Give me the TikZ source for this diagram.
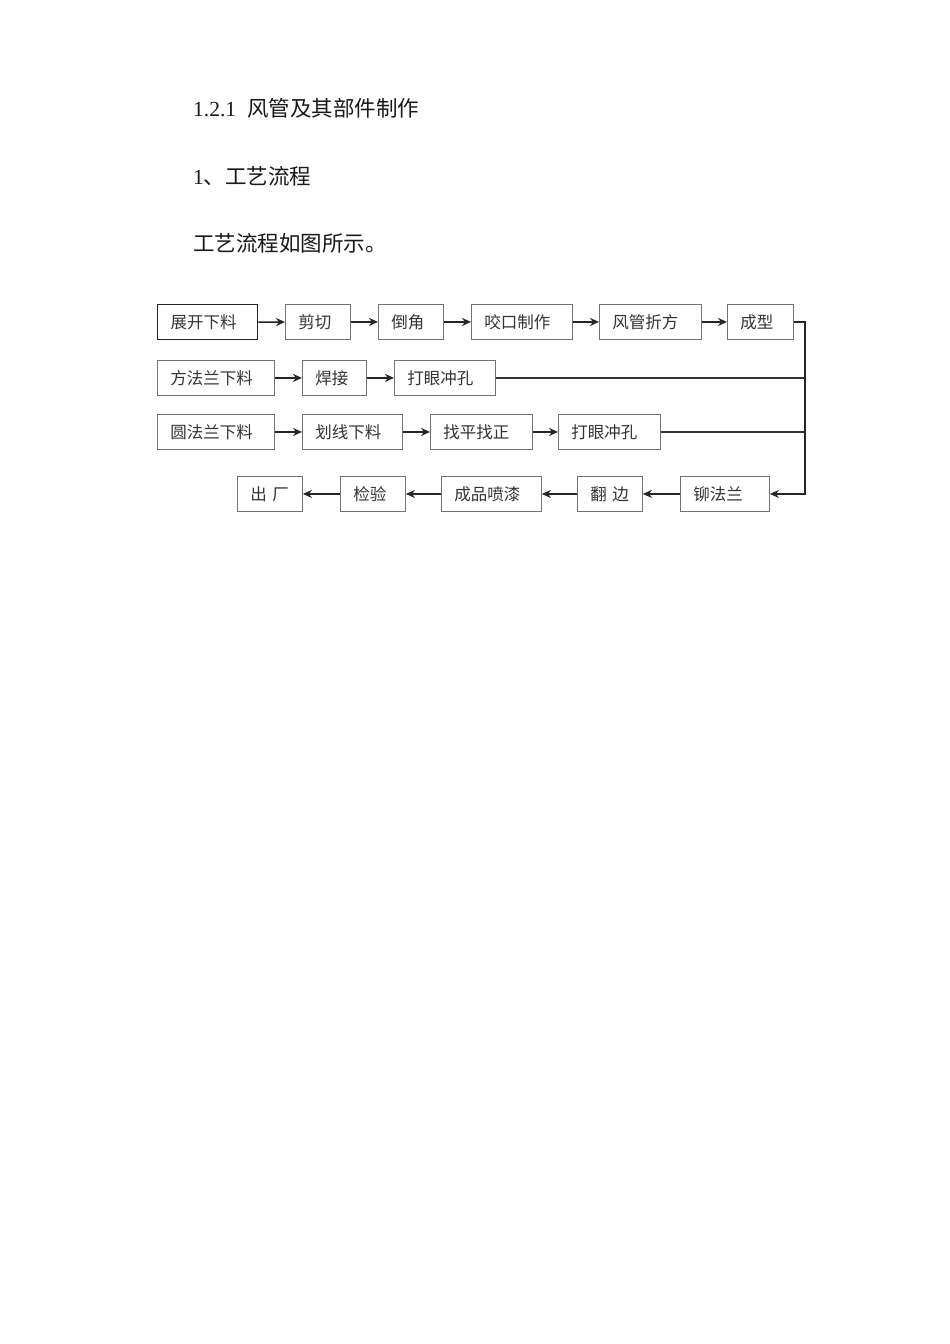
\documentclass[tikz,border=0pt]{standalone}
\usepackage{fontspec}
\setmainfont{Liberation Serif}
\newfontfamily\cjk{Noto Sans CJK SC}
\usetikzlibrary{arrows.meta}
\begin{document}
\begin{tikzpicture}[x=1pt,y=-1pt,
  box/.style={draw=black!55, line width=0.9pt, rectangle, anchor=north west,
    minimum height=35pt, inner ysep=0pt, inner xsep=13pt, align=left,
    text=black!80, font=\cjk\fontsize{16.5}{16.5}\selectfont},
  firstbox/.style={box, draw=black!85, line width=1.4pt},
  arr/.style={draw=black!85, line width=1.5pt, -{Stealth[length=9pt,width=8pt]}},
  ln/.style={draw=black!80, line width=1.1pt},
  head/.style={anchor=base west, inner sep=0pt, text=black!90, font=\fontsize{21.5}{21.5}\selectfont}]
\useasboundingbox[fill=white] (0,0) rectangle (950,1344);

\node[head] (h1) at (193,116) {1.2.1\hspace{11pt}{\cjk 风管及其部件制作}};
\node[head] (h2) at (193,184) {1{\cjk 、工艺流程}};
\node[head] (h3) at (193,251) {\cjk 工艺流程如图所示。};

% row 1
\node[firstbox, text width=74pt] (a1) at (157,304) {展开下料};
\node[box, text width=39pt] (a2) at (285,304) {剪切};
\node[box, text width=39pt] (a3) at (378,304) {倒角};
\node[box, text width=75pt] (a4) at (471,304) {咬口制作};
\node[box, text width=76pt] (a5) at (599,304) {风管折方};
\node[box, text width=40pt] (a6) at (727,304) {成型};
% row 2
\node[box, text width=91pt] (b1) at (157,360) {方法兰下料};
\node[box, text width=38pt] (b2) at (302,360) {焊接};
\node[box, text width=75pt] (b3) at (394,360) {打眼冲孔};
% row 3
\node[box, text width=91pt] (c1) at (157,414) {圆法兰下料};
\node[box, text width=74pt] (c2) at (302,414) {划线下料};
\node[box, text width=76pt] (c3) at (430,414) {找平找正};
\node[box, text width=76pt] (c4) at (558,414) {打眼冲孔};
% row 4
\node[box, text width=39pt] (d1) at (237,476) {出\ 厂};
\node[box, text width=39pt] (d2) at (340,476) {检验};
\node[box, text width=74pt] (d3) at (441,476) {成品喷漆};
\node[box, text width=39pt] (d4) at (577,476) {翻\ 边};
\node[box, text width=63pt] (d5) at (680,476) {铆法兰};

\coordinate (rx) at (805,0);

\draw[arr] (a1) -- (a2);
\draw[arr] (a2) -- (a3);
\draw[arr] (a3) -- (a4);
\draw[arr] (a4) -- (a5);
\draw[arr] (a5) -- (a6);

\draw[arr] (b1) -- (b2);
\draw[arr] (b2) -- (b3);
\draw[ln] (b3.east) -- (b3.east -| rx);

\draw[arr] (c1) -- (c2);
\draw[arr] (c2) -- (c3);
\draw[arr] (c3) -- (c4);
\draw[ln] (c4.east) -- (c4.east -| rx);

\draw[arr] (a6.east) -- (a6.east -| rx) |- (d5.east);
\draw[arr] (d5) -- (d4);
\draw[arr] (d4) -- (d3);
\draw[arr] (d3) -- (d2);
\draw[arr] (d2) -- (d1);
\end{tikzpicture}
\end{document}
